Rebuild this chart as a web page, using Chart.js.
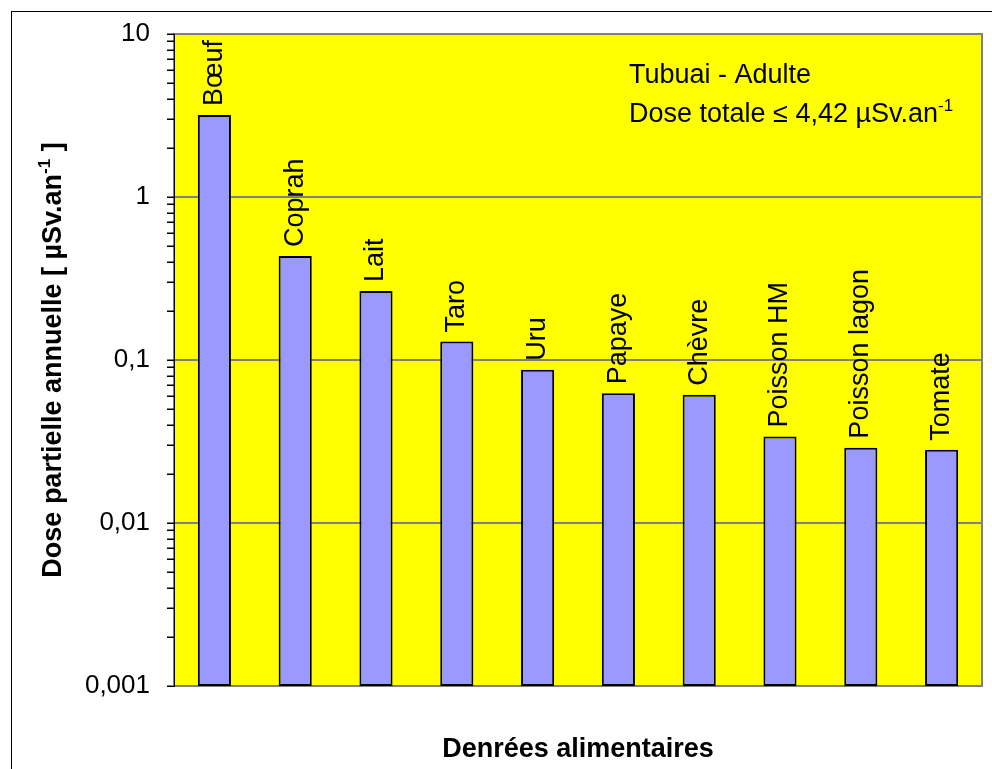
<!DOCTYPE html>
<html>
<head>
<meta charset="utf-8">
<script src="https://cdn.jsdelivr.net/npm/chart.js@4"></script>
<style>body{margin:0;background:#fff}</style>
</head>
<body>
<canvas id="c" width="992" height="769"></canvas>
<script>
// data (log scale, µSv/an)
const categories = ["Bœuf", "Coprah", "Lait", "Taro", "Uru", "Papaye", "Chèvre", "Poisson HM", "Poisson lagon", "Tomate"];
const doses = [3.18, 0.435, 0.265, 0.130, 0.087, 0.0625, 0.0612, 0.0339, 0.029, 0.0281];
const majorTicks = [0.001, 0.01, 0.1, 1, 10];
const majorLabels = ["0,001", "0,01", "0,1", "1", "10"];
const noteTitle = "Tubuai - Adulte";
const noteDose = "Dose totale ≤ 4,42 µSv.an";
const yTitle = "Dose partielle annuelle [ µSv.an";
const xTitle = "Denrées alimentaires";

const FONT = '"Liberation Sans", Arial, sans-serif';

// minor ticks 2..9 in each decade
const allTicks = [];
for (let i = 0; i < majorTicks.length - 1; i++) {
  for (let m = 1; m <= 9; m++) allTicks.push(m * majorTicks[i]);
}
allTicks.push(majorTicks[majorTicks.length - 1]);

// text with a "-1" exponent, left aligned at x
function supText(ctx, x, y, main, tail, size, bold) {
  const w = bold ? 'bold ' : '';
  ctx.font = w + size + 'px ' + FONT;
  ctx.fillText(main, x, y);
  let cx = x + ctx.measureText(main).width;
  ctx.font = w + Math.round(size * 0.62) + 'px ' + FONT;
  ctx.fillText('-1', cx, y - size * 0.42);
  cx += ctx.measureText('-1').width;
  ctx.font = w + size + 'px ' + FONT;
  ctx.fillText(tail, cx, y);
}
function supWidth(ctx, main, tail, size, bold) {
  const w = bold ? 'bold ' : '';
  ctx.font = w + size + 'px ' + FONT;
  let t = ctx.measureText(main).width + ctx.measureText(tail).width;
  ctx.font = w + Math.round(size * 0.62) + 'px ' + FONT;
  return t + ctx.measureText('-1').width;
}

const decor = {
  id: 'decor',
  beforeDraw(chart) {
    const {ctx, chartArea: a} = chart;
    ctx.save();
    ctx.fillStyle = '#fff';
    ctx.fillRect(0, 0, chart.width, chart.height);
    ctx.strokeStyle = '#000';
    ctx.lineWidth = 1;
    ctx.strokeRect(11.5, 11.5, 1100, 900);
    ctx.fillStyle = '#FFFF00';
    ctx.fillRect(a.left, a.top, a.right - a.left, a.bottom - a.top);
    ctx.strokeStyle = '#808080';
    ctx.lineWidth = 2;
    ctx.strokeRect(a.left, a.top, a.right - a.left, a.bottom - a.top);
    ctx.restore();
  },
  afterDatasetsDraw(chart) {
    const {ctx} = chart;
    const meta = chart.getDatasetMeta(0);
    ctx.save();
    ctx.fillStyle = '#000';
    ctx.font = '27px ' + FONT;
    ctx.textAlign = 'left';
    ctx.textBaseline = 'middle';
    meta.data.forEach((bar, i) => {
      ctx.save();
      ctx.translate(bar.x, bar.y - 9);
      ctx.rotate(-Math.PI / 2);
      ctx.fillText(categories[i], 0, 0);
      ctx.restore();
    });
    ctx.restore();
  },
  afterDraw(chart) {
    const {ctx, chartArea: a} = chart;
    const y = chart.scales.y;
    ctx.save();
    // tick marks on the outside of the value axis
    ctx.strokeStyle = '#000';
    ctx.lineWidth = 1;
    allTicks.forEach(v => {
      const py = Math.round(y.getPixelForValue(v)) + 0.5;
      ctx.beginPath();
      ctx.moveTo(a.left - 7, py);
      ctx.lineTo(a.left, py);
      ctx.stroke();
    });
    ctx.fillStyle = '#000';
    ctx.textBaseline = 'alphabetic';
    ctx.textAlign = 'left';
    // note box
    ctx.font = '27px ' + FONT;
    ctx.fillText(noteTitle, 629, 83);
    supText(ctx, 629, 122, noteDose, '', 27, false);
    // x title
    ctx.font = 'bold 27px ' + FONT;
    ctx.textAlign = 'center';
    ctx.fillText(xTitle, (a.left + a.right) / 2, 757);
    // y title
    ctx.textAlign = 'left';
    ctx.translate(61, (a.top + a.bottom) / 2);
    ctx.rotate(-Math.PI / 2);
    const tw = supWidth(ctx, yTitle, ' ]', 27, true);
    supText(ctx, -tw / 2, 0, yTitle, ' ]', 27, true);
    ctx.restore();
  }
};

new Chart(document.getElementById('c'), {
  type: 'bar',
  data: {
    labels: categories,
    datasets: [{
      data: doses,
      backgroundColor: '#9999FF',
      borderColor: '#000',
      borderWidth: 2,
      borderSkipped: false,
      categoryPercentage: 1,
      barPercentage: 0.41
    }]
  },
  options: {
    responsive: false,
    animation: false,
    events: [],
    layout: {padding: {top: 34, right: 10, left: 0, bottom: 0}},
    plugins: {legend: {display: false}, tooltip: {enabled: false}},
    scales: {
      x: {
        ticks: {display: false},
        grid: {drawOnChartArea: false, drawTicks: false, color: 'rgba(0,0,0,0)'},
        border: {display: true, color: '#808080', width: 2},
        afterFit: s => { s.height = 83; }
      },
      y: {
        type: 'logarithmic',
        min: 0.001,
        max: 10,
        afterBuildTicks: s => { s.ticks = allTicks.map(v => ({value: v})); },
        afterFit: s => { s.width = 174; },
        ticks: {
          autoSkip: false,
          padding: 17,
          color: '#000',
          font: {family: FONT, size: 26},
          callback: v => {
            const k = majorTicks.indexOf(v);
            return k >= 0 ? majorLabels[k] : '';
          }
        },
        grid: {
          color: c => majorTicks.includes(c.tick && c.tick.value) ? '#808080' : 'rgba(0,0,0,0)',
          lineWidth: 2,
          drawTicks: true,
          tickColor: '#000',
          tickWidth: 1,
          tickLength: 7
        },
        border: {display: true, color: '#000', width: 1}
      }
    }
  },
  plugins: [decor]
});
</script>
</body>
</html>
